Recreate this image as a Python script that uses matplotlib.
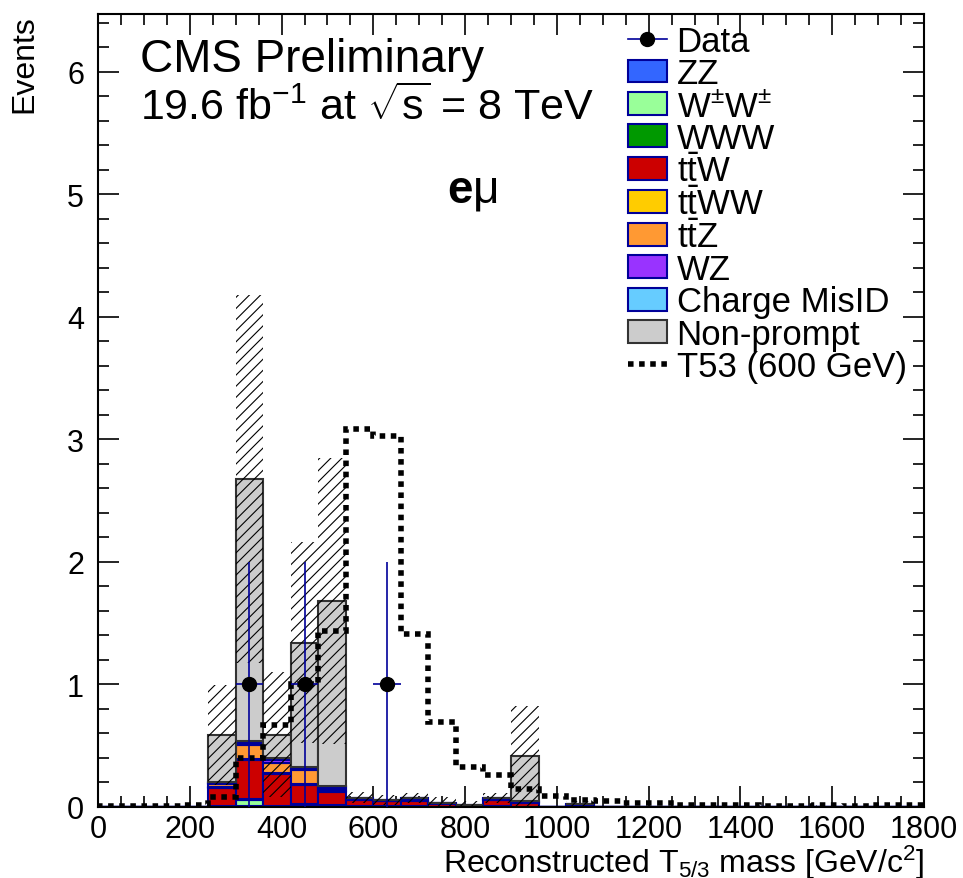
"""CMS T5/3 reconstructed mass, e-mu channel."""

import matplotlib

matplotlib.use("Agg")

import matplotlib.pyplot as plt
import numpy as np
from matplotlib.lines import Line2D
from matplotlib.patches import Patch
from matplotlib.ticker import MultipleLocator

plt.rcParams["font.family"] = ["Liberation Sans", "DejaVu Sans"]
plt.rcParams["mathtext.fontset"] = "custom"
plt.rcParams["mathtext.rm"] = "Liberation Sans"
plt.rcParams["mathtext.it"] = "Liberation Sans:italic"
plt.rcParams["mathtext.bf"] = "Liberation Sans:bold"
plt.rcParams["hatch.linewidth"] = 0.8

# 30 bins of 60 GeV from 0 to 1800
bin_edges = np.arange(0, 1801, 60)

zz = [0, 0, 0, 0, 0.005, 0.005, 0.003, 0.005, 0.003, 0.002, 0.002, 0.002, 0.001, 0, 0.002,
      0, 0, 0, 0, 0, 0, 0, 0, 0, 0, 0, 0, 0, 0, 0]
ww = [0, 0, 0, 0, 0.005, 0.055, 0.005, 0.015, 0.01, 0.003, 0.002, 0.002, 0, 0, 0.003,
      0, 0, 0, 0, 0, 0, 0, 0, 0, 0, 0, 0, 0, 0, 0]
www = [0, 0, 0, 0, 0.002, 0.003, 0.002, 0.002, 0.002, 0.001, 0.001, 0.001, 0, 0, 0,
       0, 0, 0, 0, 0, 0, 0, 0, 0, 0, 0, 0, 0, 0, 0]
ttw = [0, 0, 0, 0, 0.14, 0.32, 0.26, 0.155, 0.11, 0.05, 0.04, 0.045, 0.025, 0.005, 0.055,
       0.035, 0, 0.008, 0, 0, 0, 0, 0, 0, 0, 0, 0, 0, 0, 0]
ttww = [0, 0, 0, 0, 0.01, 0.01, 0.01, 0.008, 0.005, 0.003, 0.003, 0.01, 0, 0, 0,
        0, 0, 0, 0, 0, 0, 0, 0, 0, 0, 0, 0, 0, 0, 0]
ttz = [0, 0, 0, 0, 0.025, 0.11, 0.08, 0.12, 0.02, 0.005, 0.004, 0.01, 0.004, 0.005, 0.005,
       0.005, 0, 0.01, 0, 0, 0, 0, 0, 0, 0, 0, 0, 0, 0, 0]
wz = [0, 0, 0, 0, 0.01, 0.02, 0.02, 0.01, 0.01, 0.008, 0.005, 0.005, 0.005, 0.005, 0.008,
      0.005, 0, 0.007, 0, 0, 0, 0, 0, 0, 0, 0, 0, 0, 0, 0]
charge_misid = [0, 0, 0, 0, 0.01, 0.015, 0.02, 0.01, 0.01, 0.005, 0.003, 0, 0, 0.005, 0.002,
                0, 0, 0, 0, 0, 0, 0, 0, 0, 0, 0, 0, 0, 0, 0]
nonprompt = [0, 0, 0, 0, 0.38, 2.14, 0.19, 1.015, 1.51, 0, 0, 0, 0, 0, 0,
             0.37, 0, 0, 0, 0, 0, 0, 0, 0, 0, 0, 0, 0, 0, 0]
bkg_err = [0, 0, 0, 0, 0.41, 1.50, 0.51, 0.82, 1.17, 0.045, 0.04, 0.04, 0.05, 0.03, 0.04,
           0.41, 0, 0.02, 0, 0, 0, 0, 0, 0, 0, 0, 0, 0, 0, 0]
signal = [0.01, 0.01, 0.01, 0.02, 0.08, 0.40, 0.67, 1.00, 1.44, 3.08, 3.03, 1.41, 0.69, 0.33, 0.26,
          0.15, 0.09, 0.06, 0.05, 0.03, 0.03, 0.02, 0.015, 0.015, 0.01, 0.01, 0.015, 0.01, 0.015, 0.015]

data_x = [330, 450, 630]
data_y = [1, 1, 1]
data_err = [1, 1, 1]

samples = [
    ("ZZ", zz, "#3366ff"),
    ("W$^{\\pm}$W$^{\\pm}$", ww, "#99ff99"),
    ("WWW", www, "#009900"),
    ("$\\mathrm{t\\bar{t}W}$", ttw, "#cc0000"),
    ("$\\mathrm{t\\bar{t}WW}$", ttww, "#ffcc00"),
    ("$\\mathrm{t\\bar{t}Z}$", ttz, "#ff9933"),
    ("WZ", wz, "#9933ff"),
    ("Charge MisID", charge_misid, "#66ccff"),
    ("Non-prompt", nonprompt, "#cccccc"),
]
navy = "#000099"

fig = plt.figure(figsize=(9.63, 8.79), dpi=100)
ax = fig.add_axes([98 / 963, 71 / 879, 826 / 963, 793 / 879])

centers = 0.5 * (bin_edges[:-1] + bin_edges[1:])
width = np.diff(bin_edges)
bottom = np.zeros(len(centers))
handles = [Line2D([], [], color=navy, lw=1.2, marker="o", markersize=10,
                  markerfacecolor="black", markeredgecolor="black")]
labels = ["Data"]
for name, values, color in samples:
    vals = np.asarray(values)
    edge = "#333333" if name == "Non-prompt" else navy
    ax.bar(centers, vals, width=width, bottom=bottom, color=color,
           edgecolor=edge, linewidth=1.5, zorder=2)
    bottom += vals
    handles.append(Patch(facecolor=color, edgecolor=edge, linewidth=1.5))
    labels.append(name)

err = np.asarray(bkg_err)
low = np.clip(bottom - err, 0, None)
ax.bar(centers, bottom + err - low, width=width, bottom=low, fill=False,
       hatch="///", edgecolor="black", linewidth=0, zorder=3)

ax.stairs(signal, bin_edges, color="black", linewidth=4,
          linestyle=(0, (1, 1)), zorder=4)
handles.append(Line2D([], [], color="black", lw=4, linestyle=(0, (1, 1))))
labels.append("T53 (600 GeV)")

ax.errorbar(data_x, data_y, xerr=30, yerr=data_err, fmt="o", color="black",
            markersize=10, ecolor=navy, elinewidth=1.2, capsize=0, zorder=5)

ax.set_xlim(0, 1800)
ax.set_ylim(0, 6.47)
ax.xaxis.set_major_locator(MultipleLocator(200))
ax.xaxis.set_minor_locator(MultipleLocator(50))
ax.yaxis.set_major_locator(MultipleLocator(1))
ax.yaxis.set_minor_locator(MultipleLocator(0.2))
ax.tick_params(which="both", direction="in", top=True, right=True, width=1.2,
               labelsize=22)
ax.tick_params(which="major", length=15)
ax.tick_params(which="minor", length=8)
ax.tick_params(axis="y", pad=10)
ax.tick_params(axis="x", pad=5)
for spine in ax.spines.values():
    spine.set_linewidth(1.5)

ax.set_xlabel("Reconstructed T$_{5/3}$ mass [GeV/c$^{2}$]", fontsize=23,
              loc="right", labelpad=-1)
ax.set_ylabel("Events", fontsize=23, loc="top", labelpad=20)

fig.text(140 / 963, 1 - 72 / 879, "CMS Preliminary", fontsize=33,
         va="baseline")
fig.text(140 / 963, 1 - 120 / 879,
         r"19.6 fb$^{-1}$ at $\sqrt{\mathrm{s}}$ = 8 TeV",
         fontsize=31, va="baseline")
fig.text(447 / 963, 1 - 203 / 879, r"$\mathbf{e}\mathrm{\mu}$", fontsize=33,
         va="baseline")

ax.legend(handles, labels, loc="upper left", frameon=False, fontsize=25,
          bbox_to_anchor=(628 / 963, 1 - 26 / 879), bbox_transform=fig.transFigure,
          borderpad=0, borderaxespad=0, handlelength=1.12, handleheight=0.63,
          handletextpad=0.28, labelspacing=-0.02)

fig.savefig("out.png", dpi=100)
